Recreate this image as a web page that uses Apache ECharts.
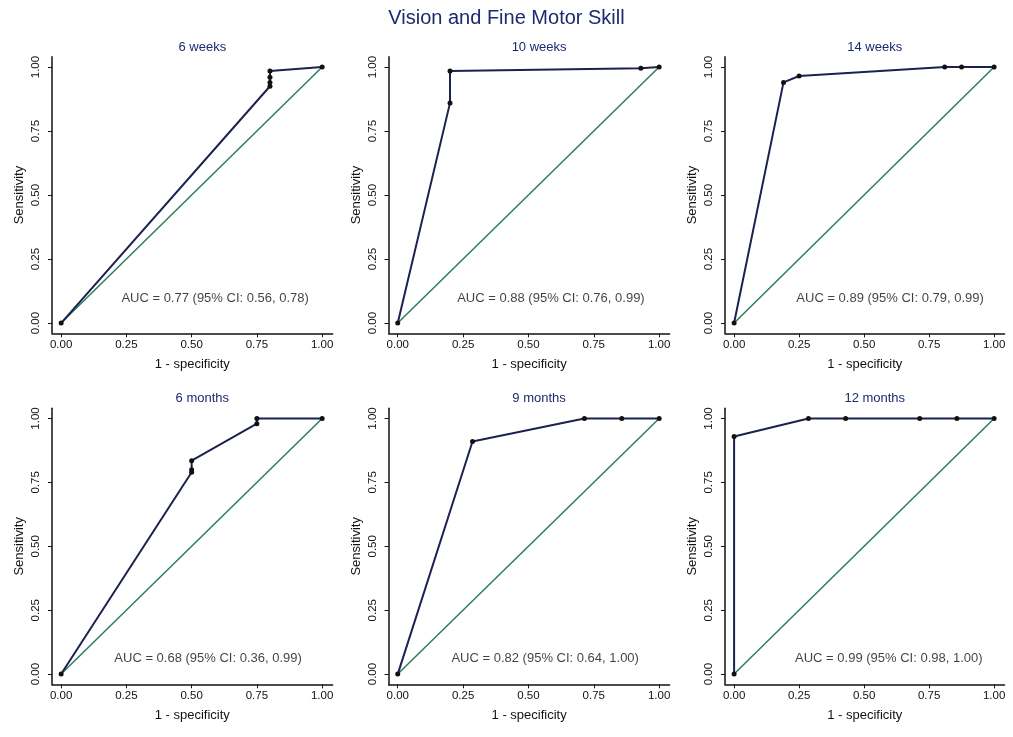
<!DOCTYPE html>
<html>
<head>
<meta charset="utf-8">
<title>Vision and Fine Motor Skill</title>
<script src="https://cdn.jsdelivr.net/npm/echarts@6/dist/echarts.min.js"></script>
<style>
  html, body { margin: 0; padding: 0; background: #fff; }
  #chart { width: 1013px; height: 737px; }
</style>
</head>
<body>
<div id="chart"></div>
<script>
// data
var panelTitles = ['6 weeks', '10 weeks', '14 weeks', '6 months', '9 months', '12 months'];
var aucTexts = [
    'AUC = 0.77 (95% CI: 0.56, 0.78)',
    'AUC = 0.88 (95% CI: 0.76, 0.99)',
    'AUC = 0.89 (95% CI: 0.79, 0.99)',
    'AUC = 0.68 (95% CI: 0.36, 0.99)',
    'AUC = 0.82 (95% CI: 0.64, 1.00)',
    'AUC = 0.99 (95% CI: 0.98, 1.00)'
];
var roc6w = [[0, 0], [0.8, 0.925], [0.8, 0.94], [0.8, 0.96], [0.8, 0.985], [1, 1]];
var roc10w = [[0, 0], [0.2, 0.86], [0.2, 0.985], [0.93, 0.995], [1, 1]];
var roc14w = [[0, 0], [0.19, 0.94], [0.25, 0.965], [0.81, 1], [0.875, 1], [1, 1]];
var roc6m = [[0, 0], [0.5, 0.79], [0.5, 0.8], [0.5, 0.835], [0.75, 0.98], [0.75, 1], [1, 1]];
var roc9m = [[0, 0], [0.286, 0.91], [0.714, 1], [0.857, 1], [1, 1]];
var roc12m = [[0, 0], [0, 0.93], [0.286, 1], [0.429, 1], [0.714, 1], [0.857, 1], [1, 1]];
var rocCurves = [roc6w, roc10w, roc14w, roc6m, roc9m, roc12m];
var diagonal = [[0, 0], [1, 1]];
var aucPos = [[0.59, 0.098], [0.586, 0.098], [0.6, 0.098], [0.563, 0.06], [0.564, 0.06], [0.595, 0.06]];
var tickValues = [0, 0.25, 0.5, 0.75, 1];

// layout
var colLeft = [52, 388.6, 725];
var colWidth = [280.6, 281, 279.5];
var rowTop = [56.8, 408.3];
var rowHeight = [276.5, 276];

var navy = '#1b2250';
var green = '#2a7d60';
var font = 'Liberation Sans, Arial, sans-serif';

var grids = [], xAxes = [], yAxes = [], series = [], titles = [];

titles.push({
    text: 'Vision and Fine Motor Skill',
    left: 'center',
    top: 3,
    textStyle: { color: '#1c2a6e', fontSize: 20, fontWeight: 'normal', fontFamily: font }
});

for (var i = 0; i < 6; i++) {
    var c = i % 3, r = Math.floor(i / 3);
    grids.push({
        left: colLeft[c], top: rowTop[r],
        width: colWidth[c], height: rowHeight[r],
        containLabel: false
    });
    titles.push({
        text: panelTitles[i],
        left: colLeft[c] + colWidth[c] / 2 + 5,
        top: rowTop[r] - 21,
        textAlign: 'center',
        textStyle: { color: '#1c2a6e', fontSize: 13, fontWeight: 'normal', fontFamily: font }
    });
    xAxes.push({
        type: 'value', gridIndex: i, min: -0.035, max: 1.04,
        name: '1 - specificity', nameLocation: 'middle', nameGap: 25,
        nameTextStyle: { color: '#111', fontSize: 13, fontFamily: font },
        axisLine: { show: true, onZero: false, lineStyle: { color: '#111', width: 1.5 } },
        axisTick: { show: true, length: 4, customValues: tickValues, lineStyle: { color: '#111' } },
        axisLabel: {
            customValues: tickValues, color: '#111', fontSize: 11.5, fontFamily: font, margin: 6,
            formatter: function (v) { return v.toFixed(2); }
        },
        splitLine: { show: false }
    });
    yAxes.push({
        type: 'value', gridIndex: i, min: -0.04, max: 1.04,
        name: 'Sensitivity', nameLocation: 'middle', nameGap: 26, nameRotate: 90,
        nameTextStyle: { color: '#111', fontSize: 13, fontFamily: font },
        axisLine: { show: true, onZero: false, lineStyle: { color: '#111', width: 1.5 } },
        axisTick: { show: true, length: 4, customValues: tickValues, lineStyle: { color: '#111' } },
        axisLabel: {
            customValues: tickValues, color: '#111', fontSize: 11.5, fontFamily: font,
            rotate: 90, margin: 16, verticalAlign: 'middle', align: 'center',
            formatter: function (v) { return v.toFixed(2); }
        },
        splitLine: { show: false }
    });
    series.push({
        type: 'line', xAxisIndex: i, yAxisIndex: i,
        data: diagonal, symbol: 'none', silent: true,
        lineStyle: { color: green, width: 1.5 }, z: 2
    });
    series.push({
        type: 'line', xAxisIndex: i, yAxisIndex: i,
        data: rocCurves[i], symbol: 'circle', symbolSize: 5, silent: true,
        lineStyle: { color: navy, width: 2 },
        itemStyle: { color: '#111' }, z: 3
    });
    series.push({
        type: 'scatter', xAxisIndex: i, yAxisIndex: i,
        data: [aucPos[i]], symbolSize: 0, silent: true,
        label: {
            show: true, position: 'inside', formatter: aucTexts[i],
            color: '#111', fontSize: 13, fontFamily: font
        }
    });
}

var chart = echarts.init(document.getElementById('chart'));
chart.setOption({
    backgroundColor: '#fff',
    animation: false,
    title: titles,
    grid: grids,
    xAxis: xAxes,
    yAxis: yAxes,
    series: series
});
</script>
</body>
</html>
